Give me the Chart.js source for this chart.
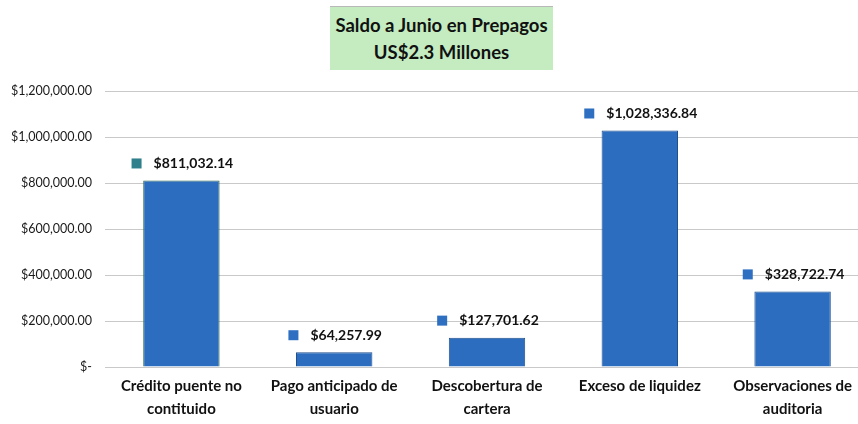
<!DOCTYPE html>
<html>
<head>
<meta charset="utf-8">
<script src="https://cdn.jsdelivr.net/npm/chart.js@4/dist/chart.umd.min.js"></script>
<style>
  html, body { margin: 0; padding: 0; background: #fff; overflow: hidden; }
  #wrap { position: relative; width: 870px; height: 424px; }
  #title {
    position: absolute; left: 330px; top: 6px; width: 223px; height: 64px;
    background: #c4ecc0; border-top: 1px solid #b8b8b8;
    font: bold 18.5px Lato, "Open Sans", sans-serif; color: #111;
    text-align: center; line-height: 27px; padding-top: 5px; box-sizing: border-box;
  }
</style>
</head>
<body>
<div id="wrap">
  <canvas id="chart" width="870" height="424"></canvas>
  <div id="title">Saldo a Junio en Prepagos<br>US$2.3 Millones</div>
</div>
<script>
const categories = [
  ["Crédito puente no", "contituido"],
  ["Pago anticipado de", "usuario"],
  ["Descobertura de", "cartera"],
  ["Exceso de liquidez"],
  ["Observaciones de", "auditoria"]
];
const saldos = [811032.14, 64257.99, 127701.62, 1028336.84, 328722.74];
const yTicks = [0, 200000, 400000, 600000, 800000, 1000000, 1200000];

function money(v) {
  if (v === 0) return "$-";
  return "$" + v.toLocaleString("en-US", { minimumFractionDigits: 2, maximumFractionDigits: 2 });
}

// value label with a small legend key, like the excel export
const valueLabels = {
  id: "valueLabels",
  afterDatasetsDraw(chart) {
    const ctx = chart.ctx;
    const meta = chart.getDatasetMeta(0);
    ctx.save();
    ctx.font = "bold 14px Lato, 'Open Sans', sans-serif";
    ctx.textBaseline = "middle";
    meta.data.forEach((bar, i) => {
      const text = money(saldos[i]);
      const tw = ctx.measureText(text).width;
      const total = 10 + 12 + tw;
      const x0 = bar.x - total / 2 + 1;
      const y = bar.y - 17;
      ctx.fillStyle = i === 0 ? "#2f7f8c" : "#2f6fc2";
      ctx.fillRect(x0, y - 5, 10, 10);
      ctx.fillStyle = "#111";
      ctx.textAlign = "left";
      ctx.fillText(text, x0 + 22, y);
    });
    ctx.restore();
  }
};

new Chart(document.getElementById("chart"), {
  type: "bar",
  data: {
    labels: categories,
    datasets: [{
      data: saldos,
      backgroundColor: "#2c6dbf",
      borderColor: ["#2f6e4c", "#1f4f8c", "#1f4f8c", "#1f4f8c", "#1f4f8c"],
      borderWidth: 1,
      barPercentage: 0.5,
      categoryPercentage: 1
    }]
  },
  options: {
    responsive: false,
    animation: false,
    layout: { padding: { top: 91, right: 1, left: 0, bottom: 0 } },
    plugins: {
      legend: { display: false },
      tooltip: { enabled: false }
    },
    scales: {
      x: {
        afterFit(scale) { scale.height = 57; },
        grid: { display: false },
        border: { display: false },
        ticks: {
          color: "#111",
          font: { family: "Lato, 'Open Sans', sans-serif", size: 15, weight: "bold", lineHeight: 1.53 },
          padding: 0,
          maxRotation: 0
        }
      },
      y: {
        min: 0,
        max: 1200000,
        afterBuildTicks(scale) {
          scale.ticks = yTicks.map(v => ({ value: v }));
        },
        afterFit(scale) { scale.width = 105; },
        grid: { color: "#c9c9c9", lineWidth: 1, drawTicks: false },
        border: { display: false },
        ticks: {
          color: "#1a1a1a",
          padding: 13,
          font: { family: "Lato, 'Open Sans', sans-serif", size: 12.5 },
          callback: v => money(v)
        }
      }
    }
  },
  plugins: [valueLabels]
});
</script>
</body>
</html>
